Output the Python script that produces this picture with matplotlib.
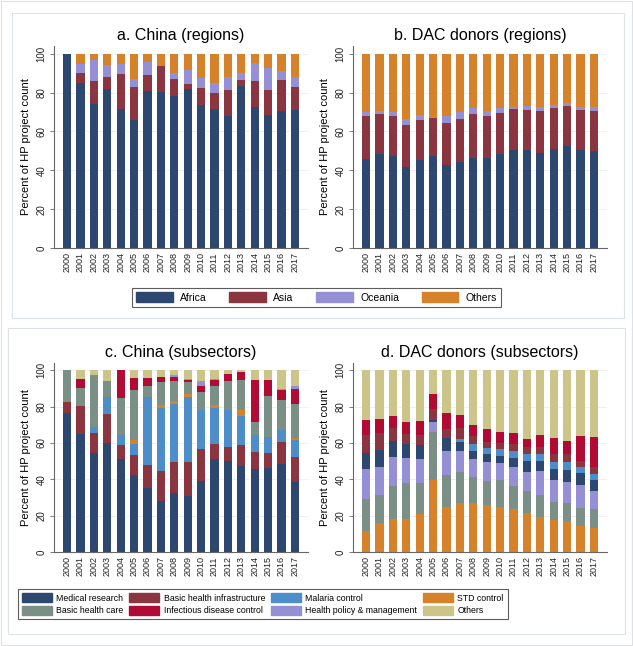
import matplotlib
matplotlib.use("Agg")
import matplotlib.pyplot as plt
from matplotlib.patches import Patch, Rectangle
import numpy as np

plt.rcParams['font.family'] = ['Liberation Sans', 'DejaVu Sans']

years = [str(y) for y in range(2000, 2018)]

# a. China (regions), percent of HP project count
cn_africa = [100, 84.9, 74.1, 81.8, 71.7, 65.9, 80.6, 80.4, 78.4, 81.8, 73.6, 71.7, 68.1, 83.5, 72.4, 68.6, 70.3, 71.2]
cn_asia = [0, 5.1, 11.7, 6.0, 18.0, 16.8, 8.3, 13.1, 8.6, 2.6, 8.9, 7.9, 13.0, 2.8, 13.4, 12.9, 16.3, 11.6]
cn_oceania = [0, 4.9, 11.1, 6.2, 5.2, 4.3, 7.0, 0.2, 3.0, 7.4, 5.2, 5.5, 6.9, 3.7, 9.4, 11.1, 4.7, 5.0]
cn_others = [0, 5.1, 3.1, 6.0, 5.1, 13.0, 4.1, 6.3, 10.0, 8.2, 12.3, 14.9, 12.0, 10.0, 4.8, 7.4, 8.7, 12.2]

# b. DAC donors (regions)
dac_africa = [45.8, 48.4, 47.5, 41.7, 45.3, 47.2, 42.7, 44.4, 46.3, 46.5, 48.5, 50.6, 50.3, 48.9, 51.1, 52.3, 50.4, 50.1]
dac_asia = [22.0, 20.6, 20.3, 21.6, 20.7, 19.9, 21.6, 22.2, 22.8, 21.3, 20.8, 20.8, 20.7, 21.6, 20.8, 20.6, 20.4, 20.2]
dac_oceania = [2.0, 1.7, 2.2, 2.9, 2.3, 0.3, 3.8, 3.2, 2.8, 2.5, 2.6, 1.2, 1.9, 1.9, 1.5, 1.7, 1.6, 2.3]
dac_others = [30.2, 29.3, 30.0, 33.8, 31.7, 32.6, 31.9, 30.2, 28.1, 29.7, 28.1, 27.4, 27.1, 27.6, 26.6, 25.4, 27.6, 27.4]

# c. China (subsectors)
cn_med = [76.4, 65.0, 54.3, 60.2, 51.2, 42.4, 35.0, 28.2, 32.2, 31.0, 39.2, 51.4, 50.3, 47.5, 45.5, 46.0, 48.3, 38.3]
cn_infra = [5.9, 15.1, 11.4, 15.8, 7.9, 10.8, 13.1, 16.5, 17.2, 18.5, 17.3, 7.9, 7.3, 11.4, 9.6, 8.5, 12.1, 14.2]
cn_malaria = [0, 0, 2.9, 9.2, 5.4, 6.3, 37.4, 34.3, 32.3, 35.6, 21.8, 19.9, 20.3, 16.2, 9.4, 8.7, 6.5, 9.2]
cn_std = [0, 0, 0, 0, 0, 2.4, 0, 1.8, 1.2, 1.6, 0, 1.5, 0, 3.2, 0, 0, 0, 1.3]
cn_care = [17.7, 10.1, 28.6, 9.1, 20.2, 27.5, 6.1, 12.8, 11.0, 6.9, 9.7, 10.8, 16.4, 16.2, 7.0, 22.4, 16.9, 18.6]
cn_infect = [0, 5.1, 0, 0, 15.3, 6.4, 4.4, 2.8, 2.3, 1.2, 3.5, 3.0, 3.7, 4.6, 23.0, 8.9, 5.1, 8.1]
cn_policy = [0, 0, 0, 0, 0, 0, 0, 0, 1.0, 0.6, 2.4, 0.7, 0, 0, 0, 0, 0.8, 1.5]
cn_sub_others = [0, 4.7, 2.8, 5.7, 0, 4.2, 4.0, 3.6, 2.8, 4.6, 6.1, 4.8, 2.0, 0.9, 5.5, 5.5, 10.3, 8.8]

# d. DAC donors (subsectors)
dac_std = [11.6, 15.7, 17.9, 17.9, 20.8, 39.6, 24.5, 27.1, 26.7, 25.6, 24.9, 23.8, 21.5, 19.3, 17.5, 17.1, 14.4, 13.3]
dac_care = [17.3, 15.6, 18.4, 19.9, 17.0, 26.7, 17.9, 17.1, 14.4, 13.3, 14.5, 12.5, 12.0, 11.8, 9.8, 9.6, 9.9, 10.1]
dac_policy = [17.0, 15.3, 15.8, 14.1, 13.6, 5.3, 13.4, 11.2, 9.9, 10.8, 9.4, 10.7, 10.7, 13.3, 12.3, 11.8, 12.5, 10.3]
dac_med = [8.8, 9.6, 9.2, 7.4, 7.5, 1.0, 6.8, 5.0, 4.8, 4.1, 4.2, 4.9, 5.9, 5.9, 6.1, 6.6, 6.5, 5.9]
dac_malaria = [0, 0, 0, 0, 0, 0, 0, 1.7, 3.5, 3.5, 3.9, 3.5, 3.7, 3.7, 4.0, 4.3, 3.7, 3.3]
dac_infra = [9.8, 9.2, 6.8, 5.5, 5.6, 6.0, 5.2, 6.4, 4.6, 3.5, 3.3, 3.9, 4.2, 4.0, 4.3, 4.4, 3.3, 4.1]
dac_infect = [8.2, 7.7, 6.9, 7.0, 7.7, 8.1, 8.6, 6.8, 6.1, 6.8, 6.1, 6.4, 4.2, 6.5, 8.6, 7.3, 13.8, 16.2]
dac_sub_others = [27.3, 26.9, 25.0, 28.2, 27.8, 13.3, 23.6, 24.7, 30.0, 32.4, 33.7, 34.3, 37.8, 35.5, 37.4, 38.9, 35.9, 36.8]

NAVY = '#2c4770'
MAROON = '#8a3540'
LAVENDER = '#958fd6'
ORANGE = '#d5822a'
BLUE = '#4d8dc9'
TEAL = '#7a8f86'
CRIMSON = '#b00a35'
KHAKI = '#ccc58a'

W, H = 633, 646
fig = plt.figure(figsize=(W / 100, H / 100), dpi=100)


def px_rect(x0, y0, x1, y1):
    return [x0 / W, 1 - y1 / H, (x1 - x0) / W, (y1 - y0) / H]


# light frames like the combined Stata graph
for (x0, y0, x1, y1) in [(1, 1, 632, 645), (12, 13, 624, 318), (8, 328, 625, 634)]:
    l, b, w, h = px_rect(x0, y0, x1, y1)
    fig.patches.append(Rectangle((l, b), w, h, transform=fig.transFigure,
                                 fill=False, edgecolor='#dde2ea', lw=0.8))


def stacked(ax, series, title):
    x = np.arange(len(years))
    bottom = np.zeros(len(years))
    for vals, color in series:
        ax.bar(x, vals, width=0.62, bottom=bottom, color=color, linewidth=0)
        bottom += np.array(vals)
    ax.set_xlim(-0.98, len(years) - 0.02)
    ax.set_ylim(0, 104)
    ax.set_yticks([0, 20, 40, 60, 80, 100])
    ax.set_xticks(x)
    ax.set_xticklabels(years, rotation=90, fontsize=6.5)
    for lab in ax.get_yticklabels():
        lab.set_rotation(90)
        lab.set_va('center')
        lab.set_fontsize(7)
    ax.tick_params(axis='x', length=0, pad=3, colors='#222222')
    ax.tick_params(axis='y', length=3, width=0.6, pad=2.5, colors='#222222', color='#666666')
    ax.grid(axis='y', color='#eef0f4', lw=0.7)
    ax.set_axisbelow(True)
    for s in ['top', 'right']:
        ax.spines[s].set_visible(False)
    for s in ['left', 'bottom']:
        ax.spines[s].set_color('#666666')
        ax.spines[s].set_linewidth(0.8)
    ax.set_ylabel('Percent of HP project count', fontsize=8, labelpad=4)
    ax.set_title(title, fontsize=11.5, pad=4)


ax_a = fig.add_axes(px_rect(54, 46, 308, 248))
stacked(ax_a, [(cn_africa, NAVY), (cn_asia, MAROON), (cn_oceania, LAVENDER), (cn_others, ORANGE)],
        'a. China (regions)')

ax_b = fig.add_axes(px_rect(353, 46, 607, 248))
stacked(ax_b, [(dac_africa, NAVY), (dac_asia, MAROON), (dac_oceania, LAVENDER), (dac_others, ORANGE)],
        'b. DAC donors (regions)')

ax_c = fig.add_axes(px_rect(54, 363, 308, 552))
stacked(ax_c, [(cn_med, NAVY), (cn_infra, MAROON), (cn_malaria, BLUE), (cn_std, ORANGE),
               (cn_care, TEAL), (cn_infect, CRIMSON), (cn_policy, LAVENDER), (cn_sub_others, KHAKI)],
        'c. China (subsectors)')

ax_d = fig.add_axes(px_rect(353, 363, 607, 552))
stacked(ax_d, [(dac_std, ORANGE), (dac_care, TEAL), (dac_policy, LAVENDER), (dac_med, NAVY),
               (dac_malaria, BLUE), (dac_infra, MAROON), (dac_infect, CRIMSON), (dac_sub_others, KHAKI)],
        'd. DAC donors (subsectors)')

# region legend
reg_names = ['Africa', 'Asia', 'Oceania', 'Others']
reg_colors = [NAVY, MAROON, LAVENDER, ORANGE]
leg1 = fig.legend([Patch(color=c) for c in reg_colors], reg_names, ncol=4,
                  loc='center', bbox_to_anchor=(316.5 / W, 1 - 297.5 / H),
                  fontsize=7.5, frameon=True, fancybox=False, edgecolor='#333333',
                  handlelength=3.5, handleheight=1.15, handletextpad=0.7,
                  columnspacing=2.2, borderpad=0.4, borderaxespad=0)
leg1.get_frame().set_linewidth(0.8)

# subsector legend (row-major order in the picture)
sub_names = ['Medical research', 'Basic health care', 'Basic health infrastructure',
             'Infectious disease control', 'Malaria control', 'Health policy & management',
             'STD control', 'Others']
sub_colors = [NAVY, TEAL, MAROON, CRIMSON, BLUE, LAVENDER, ORANGE, KHAKI]
leg2 = fig.legend([Patch(color=c) for c in sub_colors], sub_names, ncol=4,
                  loc='upper left', bbox_to_anchor=(18 / W, 1 - 589 / H),
                  fontsize=6.3, frameon=True, fancybox=False, edgecolor='#333333',
                  handlelength=3.4, handleheight=1.3, handletextpad=0.5,
                  columnspacing=0.7, borderpad=0.45, borderaxespad=0, labelspacing=0.35)
leg2.get_frame().set_linewidth(0.8)

fig.savefig('out.png', dpi=100, facecolor='white')
